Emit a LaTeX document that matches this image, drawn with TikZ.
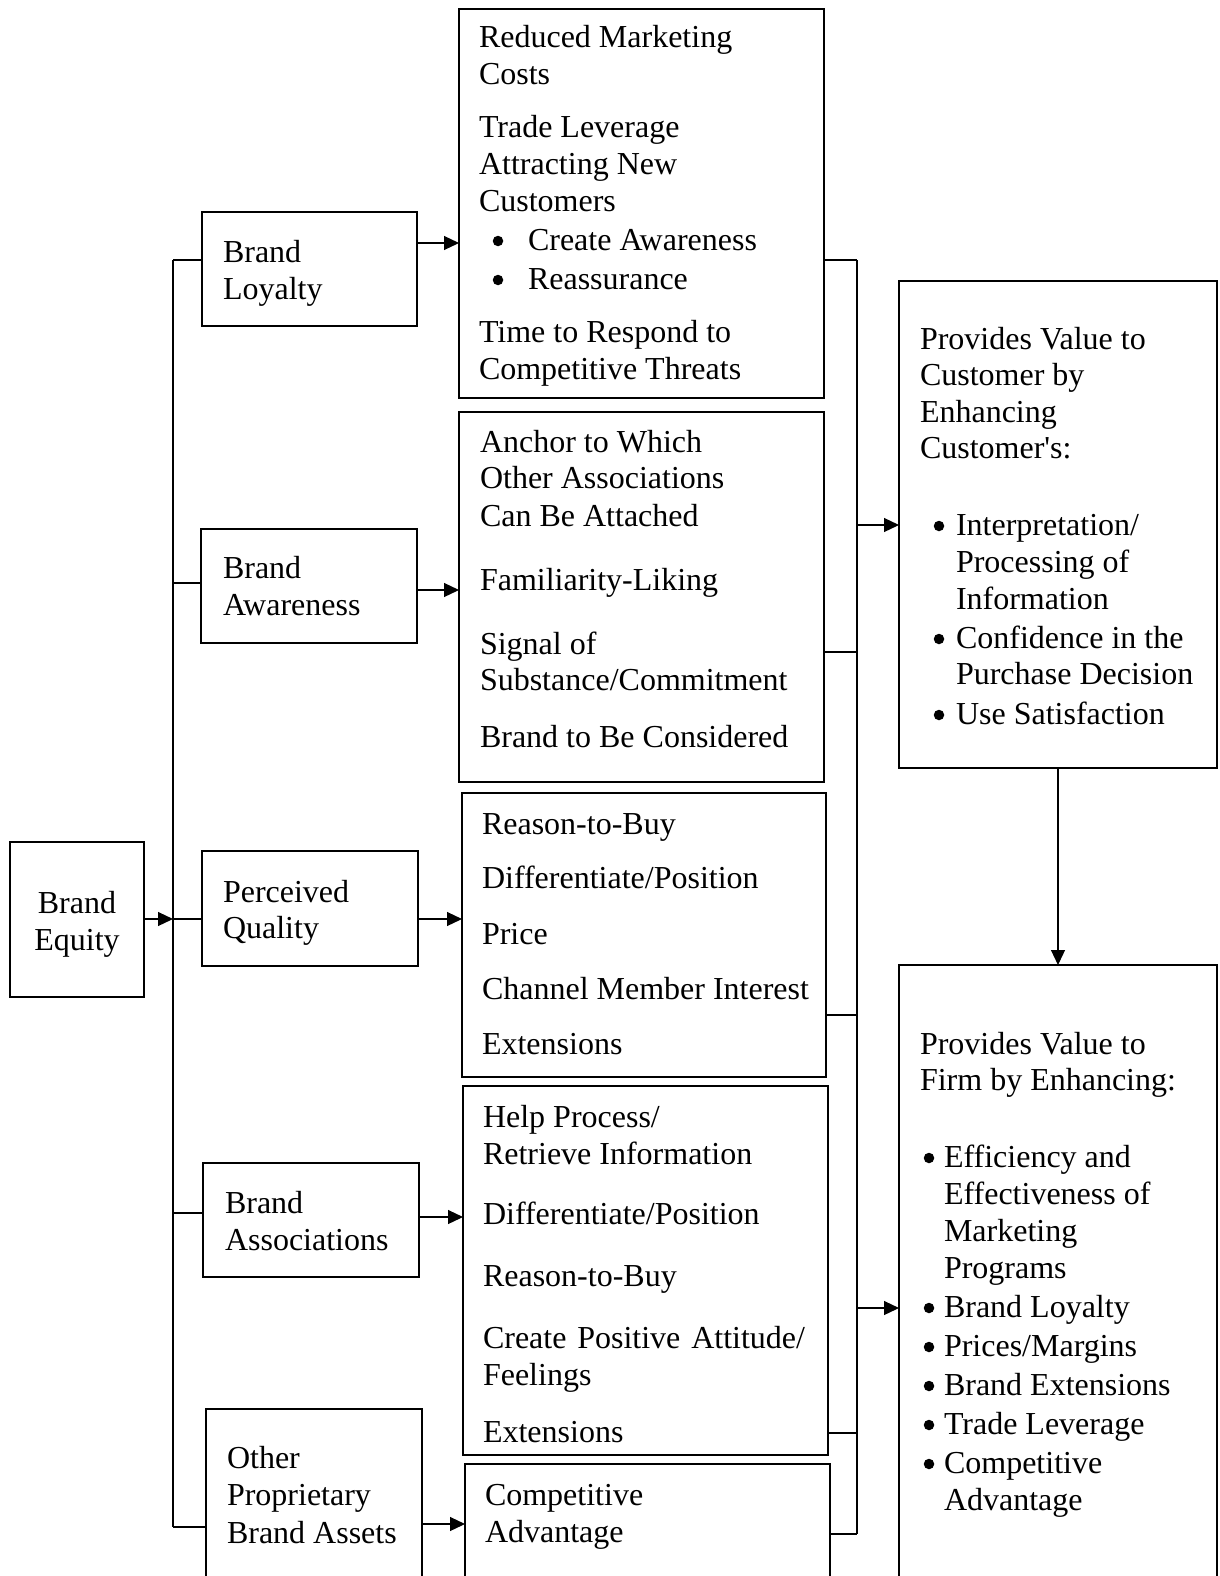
\documentclass[tikz,border=0pt]{standalone}
\usepackage{fontspec}
\setmainfont{Liberation Serif}
\usetikzlibrary{arrows.meta}

\tikzset{
  box/.style={draw, line width=2.6pt, inner sep=0pt, outer sep=0pt, anchor=north west},
  conn/.style={line width=1.2pt},
  arr/.style={conn, -{Triangle[length=15pt,width=14pt]}},
  txt/.style={anchor=base west, inner sep=0pt, outer sep=0pt},
  ctxt/.style={anchor=base, inner sep=0pt, outer sep=0pt},
  dot/.style={circle, fill, draw=none, inner sep=0pt, minimum size=10.5pt},
}

\begin{document}
\begin{tikzpicture}[x=1pt, y=-1pt, font=\fontsize{32}{37}\selectfont]
\useasboundingbox (0,0) rectangle (1219,1576);
\fill[white] (0,0) rectangle (1219,1576);
\clip (0,0) rectangle (1219,1576);

% ---- boxes ----
\node[box, minimum width=134pt, minimum height=155pt] (eq)   at (10,842)  {};
\node[box, minimum width=215pt, minimum height=114pt] (loy)  at (202,212) {};
\node[box, minimum width=216pt, minimum height=114pt] (awa)  at (201,529) {};
\node[box, minimum width=216pt, minimum height=115pt] (pq)   at (202,851) {};
\node[box, minimum width=216pt, minimum height=114pt] (ass)  at (203,1163) {};
\node[box, minimum width=216pt, minimum height=200pt] (oth)  at (206,1409) {};

\node[box, minimum width=365pt, minimum height=389pt] (r1) at (459,9)    {};
\node[box, minimum width=365pt, minimum height=370pt] (r2) at (459,412)  {};
\node[box, minimum width=364pt, minimum height=284pt] (r3) at (462,793)  {};
\node[box, minimum width=365pt, minimum height=369pt] (r4) at (463,1086) {};
\node[box, minimum width=365pt, minimum height=150pt] (r5) at (465,1464) {};

\node[box, minimum width=318pt, minimum height=487pt] (cust) at (899,281) {};
\node[box, minimum width=318pt, minimum height=650pt] (firm) at (899,965) {};

% ---- left trunk ----
\coordinate (j1) at (173,260);
\coordinate (j2) at (173,583);
\coordinate (j3) at (173,919);
\coordinate (j4) at (173,1213);
\coordinate (j5) at (173,1527);
\draw[conn] (j1) -- (j5);
\draw[conn] (j1) -- (j1 -| loy.west);
\draw[conn] (j2) -- (j2 -| awa.west);
\draw[conn] (j3) -- (j3 -| pq.west);
\draw[conn] (j4) -- (j4 -| ass.west);
\draw[conn] (j5) -- (j5 -| oth.west);
\draw[arr] (eq.east |- j3) -- (j3);

% ---- dimensions to their benefits ----
\coordinate (a1) at (0,243);
\coordinate (a2) at (0,590);
\coordinate (a3) at (0,919);
\coordinate (a4) at (0,1217);
\coordinate (a5) at (0,1524);
\draw[arr] (loy.east |- a1) -- (r1.west |- a1);
\draw[arr] (awa.east |- a2) -- (r2.west |- a2);
\draw[arr] (pq.east |- a3)  -- (r3.west |- a3);
\draw[arr] (ass.east |- a4) -- (r4.west |- a4);
\draw[arr] (oth.east |- a5) -- (r5.west |- a5);

% ---- right bus ----
\coordinate (b1) at (857,260);
\coordinate (b2) at (857,652);
\coordinate (b3) at (857,1015);
\coordinate (b4) at (857,1433);
\coordinate (b5) at (857,1534);
\coordinate (bc) at (857,525);
\coordinate (bf) at (857,1308);
\draw[conn] (b1) -- (b5);
\draw[conn] (b1 -| r1.east) -- (b1);
\draw[conn] (b2 -| r2.east) -- (b2);
\draw[conn] (b3 -| r3.east) -- (b3);
\draw[conn] (b4 -| r4.east) -- (b4);
\draw[conn] (b5 -| r5.east) -- (b5);
\draw[arr] (bc) -- (bc -| cust.west);
\draw[arr] (bf) -- (bf -| firm.west);
\draw[arr] (cust.south) -- (firm.north);

% ---- left column texts ----
\node[ctxt] (eqt1) at (77,913) {Brand};
\node[ctxt] (eqt2) at (77,950) {Equity};
\node[txt] (loyt1) at (223,262) {Brand};
\node[txt] (loyt2) at (223,299) {Loyalty};
\node[txt] (awat1) at (223,578) {Brand};
\node[txt] (awat2) at (223,615) {Awareness};
\node[txt] (pqt1) at (223,902) {Perceived};
\node[txt] (pqt2) at (223,938) {Quality};
\node[txt] (asst1) at (225,1213) {Brand};
\node[txt] (asst2) at (225,1250) {Associations};
\node[txt] (otht1) at (227,1468) {Other};
\node[txt] (otht2) at (227,1505) {Proprietary};
\node[txt] (otht3) at (227,1543) {Brand Assets};

% ---- brand loyalty benefits ----
\node[txt] (r1t1) at (479,48)  {Reduced Marketing};
\node[txt] (r1t2) at (479,85)  {Costs};
\node[txt] (r1t3) at (479,138) {Trade Leverage};
\node[txt] (r1t4) at (479,174) {Attracting New};
\node[txt] (r1t5) at (479,211) {Customers};
\node[dot] (r1d1) at (498,241) {};
\node[txt] (r1t6) at (528,250) {Create Awareness};
\node[dot] (r1d2) at (498,280) {};
\node[txt] (r1t7) at (528,289) {Reassurance};
\node[txt] (r1t8) at (479,342) {Time to Respond to};
\node[txt] (r1t9) at (479,379) {Competitive Threats};

% ---- brand awareness benefits ----
\node[txt] (r2t1) at (480,452) {Anchor to Which};
\node[txt] (r2t2) at (480,488) {Other Associations};
\node[txt] (r2t3) at (480,526) {Can Be Attached};
\node[txt] (r2t4) at (480,590) {Familiarity-Liking};
\node[txt] (r2t5) at (480,654) {Signal of};
\node[txt] (r2t6) at (480,690) {Substance/Commitment};
\node[txt] (r2t7) at (480,747) {Brand to Be Considered};

% ---- perceived quality benefits ----
\node[txt] (r3t1) at (482,834)  {Reason-to-Buy};
\node[txt] (r3t2) at (482,888)  {Differentiate/Position};
\node[txt] (r3t3) at (482,944)  {Price};
\node[txt] (r3t4) at (482,999)  {Channel Member Interest};
\node[txt] (r3t5) at (482,1054) {Extensions};

% ---- brand association benefits ----
\node[txt] (r4t1) at (483,1127) {Help Process/};
\node[txt] (r4t2) at (483,1164) {Retrieve Information};
\node[txt] (r4t3) at (483,1224) {Differentiate/Position};
\node[txt] (r4t4) at (483,1286) {Reason-to-Buy};
\node[txt] (r4t5) at (483,1348) {\hbox to 322pt{Create\hfil Positive\hfil Attitude/}};
\node[txt] (r4t6) at (483,1385) {Feelings};
\node[txt] (r4t7) at (483,1442) {Extensions};

% ---- other assets benefit ----
\node[txt] (r5t1) at (485,1505) {Competitive};
\node[txt] (r5t2) at (485,1542) {Advantage};

% ---- value to customer ----
\node[txt] (ct1) at (920,349) {Provides Value to};
\node[txt] (ct2) at (920,385) {Customer by};
\node[txt] (ct3) at (920,422) {Enhancing};
\node[txt] (ct4) at (920,458) {Customer\textquotesingle s:};
\node[dot] (cd1) at (939,526) {};
\node[txt] (ct5) at (956,535) {Interpretation/};
\node[txt] (ct6) at (956,572) {Processing of};
\node[txt] (ct7) at (956,609) {Information};
\node[dot] (cd2) at (939,639) {};
\node[txt] (ct8) at (956,648) {Confidence in the};
\node[txt] (ct9) at (956,684) {Purchase Decision};
\node[dot] (cd3) at (939,715) {};
\node[txt] (ct10) at (956,724) {Use Satisfaction};

% ---- value to firm ----
\node[txt] (ft1) at (920,1054) {Provides Value to};
\node[txt] (ft2) at (920,1090) {Firm by Enhancing:};
\node[dot] (fd1) at (929,1158) {};
\node[txt] (ft3) at (944,1167) {Efficiency and};
\node[txt] (ft4) at (944,1204) {Effectiveness of};
\node[txt] (ft5) at (944,1241) {Marketing};
\node[txt] (ft6) at (944,1278) {Programs};
\node[dot] (fd2) at (929,1308) {};
\node[txt] (ft7) at (944,1317) {Brand Loyalty};
\node[dot] (fd3) at (929,1347) {};
\node[txt] (ft8) at (944,1356) {Prices/Margins};
\node[dot] (fd4) at (929,1386) {};
\node[txt] (ft9) at (944,1395) {Brand Extensions};
\node[dot] (fd5) at (929,1425) {};
\node[txt] (ft10) at (944,1434) {Trade Leverage};
\node[dot] (fd6) at (929,1464) {};
\node[txt] (ft11) at (944,1473) {Competitive};
\node[txt] (ft12) at (944,1510) {Advantage};
\end{tikzpicture}
\end{document}
